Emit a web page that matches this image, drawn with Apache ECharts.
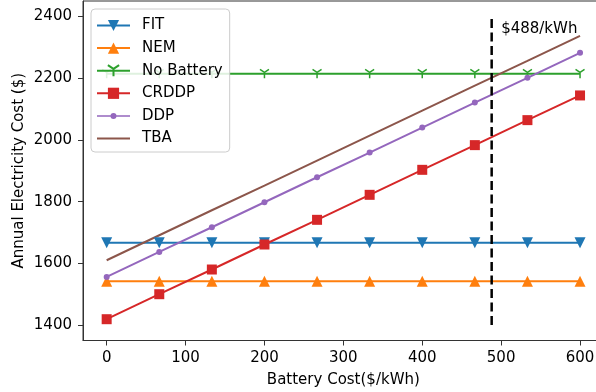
<!DOCTYPE html>
<html>
<head>
<meta charset="utf-8">
<script src="https://cdn.jsdelivr.net/npm/echarts@6/dist/echarts.min.js"></script>
<style>
html,body{margin:0;padding:0;background:#fff;}
#chart{width:596px;height:392px;}
</style>
</head>
<body>
<div id="chart"></div>
<script>
// ---- data ----
var batteryCost = [0, 66.67, 133.33, 200, 266.67, 333.33, 400, 466.67, 533.33, 600];
var fit       = [1667, 1667, 1667, 1667, 1667, 1667, 1667, 1667, 1667, 1667];
var nem       = [1542, 1542, 1542, 1542, 1542, 1542, 1542, 1542, 1542, 1542];
var noBattery = [2214, 2214, 2214, 2214, 2214, 2214, 2214, 2214, 2214, 2214];
var crddp     = [1419, 1500, 1580, 1661, 1741, 1822, 1903, 1983, 2064, 2144];
var ddp       = [1556, 1637, 1717, 1798, 1879, 1959, 2040, 2121, 2201, 2282];
var tba       = [1610, 1691, 1772, 1852, 1933, 2014, 2095, 2176, 2256, 2337];
var seriesNames = ['FIT', 'NEM', 'No Battery', 'CRDDP', 'DDP', 'TBA'];
var breakEvenCost = 488;
var breakEvenRange = [1400, 2400];
var annotationText = '$488/kWh';
var annotationPos = [500, 2360];
var xTicks = [0, 100, 200, 300, 400, 500, 600];
var yTicks = [1400, 1600, 1800, 2000, 2200, 2400];

function pairs(xs, ys) { return xs.map(function (x, i) { return [x, ys[i]]; }); }

var FONT = 'DejaVu Sans';
var yMarker = 'path://M5,5 L5,10 M5,5 L0.7,2.5 M5,5 L9.3,2.5';
var legendLineIcon = 'path://M0,0 L33,0 L33,2 L0,2 Z';
var legendDotIcon = 'path://M0,3.75 L33,3.75 L33,5.25 L0,5.25 Z M16.5,1.5 A3,3 0 1,1 16.49,1.5 Z';

function lineSeries(name, ys, color, symbol, size, extra) {
  var s = {
    name: name, type: 'line', data: pairs(batteryCost, ys),
    symbol: symbol, symbolSize: size, showSymbol: symbol !== 'none',
    lineStyle: { color: color, width: 2 },
    itemStyle: { color: color },
    emphasis: { disabled: true },
    animation: false
  };
  if (extra) for (var k in extra) s[k] = extra[k];
  return s;
}

var legendData = seriesNames.map(function (n) {
  if (n === 'TBA') return { name: n, icon: legendLineIcon };
  if (n === 'DDP') return { name: n, icon: legendDotIcon };
  return { name: n };
});

var chart = echarts.init(document.getElementById('chart'), null, { renderer: 'canvas' });
var option = {
  animation: false,
  textStyle: { fontFamily: FONT },
  grid: {
    left: 83, top: 1, right: -7.7, bottom: 51.5, show: true,
    borderColor: '#333', borderWidth: 1, containLabel: false, outerBoundsMode: 'none'
  },
  legend: {
    data: legendData,
    orient: 'vertical', left: 91, top: 9,
    padding: [9, 7, 6, 5],
    itemWidth: 33, itemHeight: 14, itemGap: 7.6,
    symbolKeepAspect: true,
    backgroundColor: 'rgba(255,255,255,0.85)',
    borderColor: '#cccccc', borderWidth: 1, borderRadius: 4,
    textStyle: { fontSize: 15, color: '#000', fontFamily: FONT, lineHeight: 15, padding: [0, 0, 0, 7] }
  },
  xAxis: {
    type: 'value', min: -30, max: 630,
    name: 'Battery Cost($/kWh)', nameLocation: 'middle', nameGap: 32, nameMoveOverlap: false,
    nameTextStyle: { fontSize: 15, color: '#000', fontFamily: FONT },
    axisLine: { show: true, onZero: false, lineStyle: { color: '#333', width: 1 } },
    axisTick: { show: true, length: 5, lineStyle: { color: '#333' }, customValues: xTicks },
    axisLabel: { fontSize: 15, color: '#000', margin: 10, customValues: xTicks, fontFamily: FONT,
      formatter: function (v) { return String(v); } },
    splitLine: { show: false }
  },
  yAxis: {
    type: 'value', min: 1350, max: 2450,
    name: 'Annual Electricity Cost ($)', nameLocation: 'middle', nameGap: 56, nameRotate: 90,
    nameMoveOverlap: false,
    nameTextStyle: { fontSize: 15, color: '#000', fontFamily: FONT },
    axisLine: { show: true, onZero: false, lineStyle: { color: '#333', width: 1 } },
    axisTick: { show: true, length: 5, lineStyle: { color: '#333' }, customValues: yTicks },
    axisLabel: { fontSize: 15, color: '#000', margin: 11, customValues: yTicks, fontFamily: FONT,
      formatter: function (v) { return String(v); } },
    splitLine: { show: false }
  },
  series: [
    lineSeries('FIT', fit, '#1f77b4', 'triangle', 11, { symbolRotate: 180 }),
    lineSeries('NEM', nem, '#ff7f0e', 'triangle', 11),
    lineSeries('No Battery', noBattery, '#2ca02c', yMarker, 9,
      { itemStyle: { color: 'rgba(0,0,0,0)', borderColor: '#2ca02c', borderWidth: 1.5 } }),
    lineSeries('CRDDP', crddp, '#d62728', 'rect', 10),
    lineSeries('DDP', ddp, '#9467bd', 'circle', 6),
    lineSeries('TBA', tba, '#8c564b', 'none', 0),
    {
      name: 'breakEven', type: 'line', symbol: 'none', animation: false,
      data: [[breakEvenCost, breakEvenRange[0]], [breakEvenCost, breakEvenRange[1]]],
      lineStyle: { color: '#000', width: 2.5, type: [9, 4.5] },
      emphasis: { disabled: true },
      markPoint: {
        symbol: 'circle', symbolSize: 0, animation: false,
        data: [{ coord: annotationPos }],
        label: {
          show: true, formatter: annotationText, position: 'inside',
          align: 'left', verticalAlign: 'middle',
          fontSize: 15, color: '#000', fontFamily: FONT
        }
      }
    }
  ]
};
chart.setOption(option);
</script>
</body>
</html>
